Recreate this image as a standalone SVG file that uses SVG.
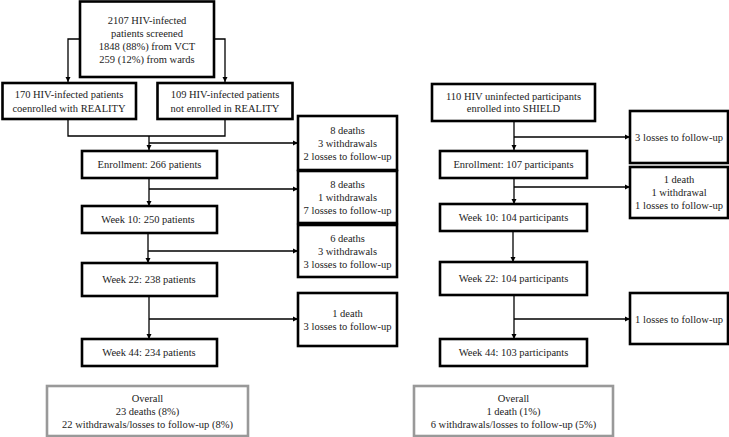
<svg xmlns="http://www.w3.org/2000/svg" width="729" height="437" viewBox="0 0 729 437">
<defs>
<marker id="ah" markerWidth="6" markerHeight="6" refX="5" refY="3" orient="auto" markerUnits="userSpaceOnUse">
<path d="M0,0.5 L5,3 L0,5.5 Z" fill="#000"/>
</marker>
</defs>
<style>
.b{fill:#fff;stroke:#000;stroke-width:2.6}
.g{fill:#fff;stroke:#999;stroke-width:2.6}
.c{fill:none;stroke:#000;stroke-width:1.3}
.a{marker-end:url(#ah)}
text{font-family:"Liberation Serif","Times New Roman",serif;font-size:10.5px;fill:#222;text-anchor:middle}
</style>
<rect width="729" height="437" fill="#fff"/>
<g id="connectors">
<path class="c a" d="M80,39 H68 V82"/>
<path class="c a" d="M214,39 H225 V82"/>
<path class="c" d="M68,119 V136 H225 V119"/>
<path class="c a" d="M149,136 V150"/>
<path class="c a" d="M149,143 H298"/>
<path class="c a" d="M149,178 V206"/>
<path class="c a" d="M149,189 H298"/>
<path class="c a" d="M148,233 V263"/>
<path class="c a" d="M148,251 H298"/>
<path class="c a" d="M149,296 V339"/>
<path class="c a" d="M149,319 H298"/>
<path class="c a" d="M514,121 V150"/>
<path class="c a" d="M514,137 H630"/>
<path class="c a" d="M514,178 V204"/>
<path class="c a" d="M514,187 H630"/>
<path class="c a" d="M513,231 V262"/>
<path class="c a" d="M514,296 V339"/>
<path class="c a" d="M514,319 H630"/>
</g>
<g id="screened"><rect class="b" x="80" y="1.5" width="134" height="75.5"/>
<text x="147" y="24">2107 HIV-infected</text><text x="147" y="37">patients screened</text><text x="147" y="50">1848 (88%) from VCT</text><text x="147" y="63">259 (12%) from wards</text></g>
<g id="coenrolled"><rect class="b" x="2.5" y="83" width="133.5" height="36"/>
<text x="69" y="98">170 HIV-infected patients</text><text x="69" y="112">coenrolled with REALITY</text></g>
<g id="notenrolled"><rect class="b" x="157.5" y="83" width="135" height="36"/>
<text x="225" y="98">109 HIV-infected patients</text><text x="225" y="112">not enrolled in REALITY</text></g>
<g id="loss1"><rect class="b" x="298" y="116" width="99" height="54"/>
<text x="347.5" y="134">8 deaths</text><text x="347.5" y="147">3 withdrawals</text><text x="347.5" y="160">2 losses to follow-up</text></g>
<g id="loss2"><rect class="b" x="298" y="171" width="99" height="52"/>
<text x="347.5" y="188">8 deaths</text><text x="347.5" y="201">1 withdrawals</text><text x="347.5" y="214">7 losses to follow-up</text></g>
<g id="loss3"><rect class="b" x="298" y="225" width="99" height="52"/>
<text x="347.5" y="242">6 deaths</text><text x="347.5" y="255">3 withdrawals</text><text x="347.5" y="268">3 losses to follow-up</text></g>
<g id="loss4"><rect class="b" x="298" y="293" width="99" height="53"/>
<text x="347.5" y="317">1 death</text><text x="347.5" y="330">3 losses to follow-up</text></g>
<g id="enr266"><rect class="b" x="82" y="151" width="135" height="27"/><text x="149.5" y="168">Enrollment: 266 patients</text></g>
<g id="w10a"><rect class="b" x="82" y="206" width="135" height="27"/><text x="148" y="223">Week 10: 250 patients</text></g>
<g id="w22a"><rect class="b" x="82" y="263" width="135" height="33"/><text x="149" y="283">Week 22: 238 patients</text></g>
<g id="w44a"><rect class="b" x="82" y="339" width="135" height="27"/><text x="149" y="356">Week 44: 234 patients</text></g>
<g id="overall1"><rect class="g" x="47" y="386" width="201" height="50"/>
<text x="147.5" y="402">Overall</text><text x="147.5" y="415">23 deaths (8%)</text><text x="147.5" y="428">22 withdrawals/losses to follow-up (8%)</text></g>
<g id="shield"><rect class="b" x="432" y="84" width="163" height="37"/>
<text x="513.5" y="100">110 HIV uninfected participants</text><text x="513.5" y="112">enrolled into SHIELD</text></g>
<g id="sloss1"><rect class="b" x="630" y="111" width="98" height="52"/><text x="679" y="141">3 losses to follow-up</text></g>
<g id="sloss2"><rect class="b" x="630" y="167" width="98" height="51"/>
<text x="679" y="183">1 death</text><text x="679" y="196">1 withdrawal</text><text x="679" y="209">1 losses to follow-up</text></g>
<g id="sloss3"><rect class="b" x="630" y="293" width="98" height="51"/><text x="679" y="323">1 losses to follow-up</text></g>
<g id="enr107"><rect class="b" x="440" y="151" width="147" height="27"/><text x="513.5" y="168">Enrollment: 107 participants</text></g>
<g id="w10b"><rect class="b" x="440" y="204" width="147" height="27"/><text x="513.5" y="221">Week 10: 104 participants</text></g>
<g id="w22b"><rect class="b" x="440" y="262" width="147" height="33"/><text x="513.5" y="282">Week 22: 104 participants</text></g>
<g id="w44b"><rect class="b" x="440" y="339" width="147" height="27"/><text x="513.5" y="356">Week 44: 103 participants</text></g>
<g id="overall2"><rect class="g" x="414" y="386" width="199" height="50"/>
<text x="513.5" y="402">Overall</text><text x="513.5" y="415">1 death (1%)</text><text x="513.5" y="428">6 withdrawals/losses to follow-up (5%)</text></g>
</svg>
